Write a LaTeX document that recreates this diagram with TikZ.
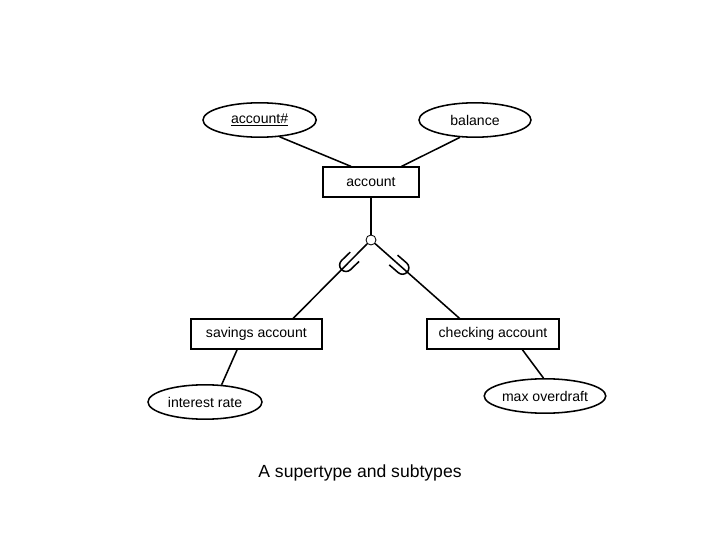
\documentclass[tikz,border=0pt]{standalone}
\usepackage{fontspec}
\setmainfont{Liberation Sans}
\usepackage{tikz}
\usetikzlibrary{shapes.geometric}

\begin{document}
\begin{tikzpicture}[every node/.style={font=\fontsize{10}{12}\selectfont},
	erline/.style={line width=1.1pt},
	attr/.style={draw, ellipse, line width=1.1pt, inner sep=0pt, minimum width=2.83cm, minimum height=0.86cm},
	entity/.style={draw, rectangle, line width=1.1pt, inner sep=0pt, minimum height=0.74cm}]
	\useasboundingbox (0,0) rectangle (18,13.5);
	% supertype and its attributes
	\node[attr] (acctnum) at (6.49,10.5) {\underline{account\#}};
	\node[attr, minimum width=2.8cm] (balance) at (11.875,10.5) {balance};
	\node[entity, minimum width=2.4cm] (account) at (9.275,8.95) {account};
	\draw[erline] (acctnum.-40) -- (account.142);
	\draw[erline] (balance.-131) -- (account.27);
	% specialization circle
	\node[draw, circle, line width=0.6pt, minimum size=0.25cm, inner sep=0pt] (spec) at (9.275,7.5) {};
	\draw[erline] (account.south) -- (spec.north);
	% subtypes
	\node[entity, minimum width=3.28cm] (savings) at (6.41,5.15) {savings account};
	\node[entity, minimum width=3.3cm] (checking) at (12.325,5.15) {checking account};
	\draw[erline] (spec) -- (savings.23) coordinate[pos=0.27] (subL);
	\draw[erline] (spec) -- (checking.155.5) coordinate[pos=0.31] (subR);
	\draw[erline, shift={(subL)}, rotate=223.9] (-0.26,0.16) -- (0.04,0.16) arc[start angle=90, end angle=-90, radius=0.16] -- (-0.26,-0.16);
	\draw[erline, shift={(subR)}, rotate=-40.8] (-0.26,0.16) -- (0.04,0.16) arc[start angle=90, end angle=-90, radius=0.16] -- (-0.26,-0.16);
	% subtype attributes
	\node[attr, minimum width=2.85cm] (interest) at (5.125,3.45) {interest rate};
	\node[attr, minimum width=2.75cm] (overdraft) at (13.625,3.6) {max overdraft};
	\draw[erline] (savings.-141) -- (interest.46);
	\draw[erline] (checking.-28) -- (overdraft.95);
	\node[font=\fontsize{12.5}{15}\selectfont] (title) at (9.0,1.675) {A supertype and subtypes};
\end{tikzpicture}
\end{document}
